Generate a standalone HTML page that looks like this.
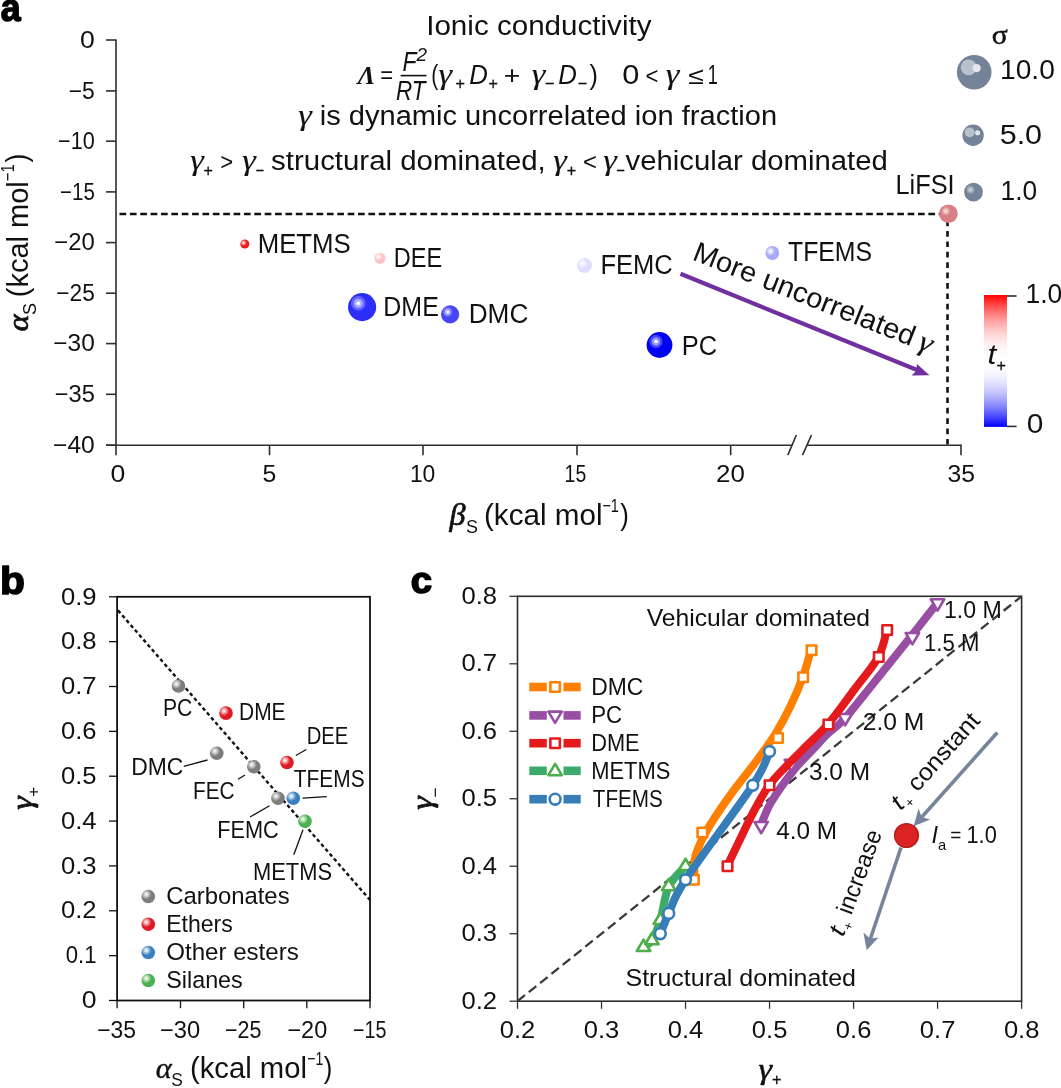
<!DOCTYPE html>
<html><head><meta charset="utf-8"><title>figure</title>
<style>
html,body{margin:0;padding:0;background:#fff;}
body{width:1061px;height:1088px;overflow:hidden;}
svg{display:block;will-change:transform;}
text{font-family:"Liberation Sans",sans-serif;fill:#111;}
text.sf{font-family:"Liberation Serif",serif;}
</style></head><body>
<svg width="1061" height="1088" viewBox="0 0 1061 1088">
<defs>
<radialGradient id="g1" cx="243.59" cy="242.78" r="3.15" gradientUnits="userSpaceOnUse"><stop offset="0" stop-color="#ffffff" stop-opacity="1.00"/><stop offset="0.3" stop-color="#ffffff" stop-opacity="0.75"/><stop offset="1.0" stop-color="#ffffff" stop-opacity="0.00"/></radialGradient>
<radialGradient id="g2" cx="378.49" cy="256.79" r="3.92" gradientUnits="userSpaceOnUse"><stop offset="0" stop-color="#ffffff" stop-opacity="1.00"/><stop offset="0.3" stop-color="#ffffff" stop-opacity="0.75"/><stop offset="1.0" stop-color="#ffffff" stop-opacity="0.00"/></radialGradient>
<radialGradient id="g3" cx="358.29" cy="303.29" r="7.61" gradientUnits="userSpaceOnUse"><stop offset="0" stop-color="#ffffff" stop-opacity="1.00"/><stop offset="0.2" stop-color="#ffffff" stop-opacity="0.95"/><stop offset="0.3" stop-color="#ffffff" stop-opacity="0.62"/><stop offset="0.55" stop-color="#ffffff" stop-opacity="0.55"/><stop offset="0.64" stop-color="#ffffff" stop-opacity="0.30"/><stop offset="0.9" stop-color="#ffffff" stop-opacity="0.24"/><stop offset="1.0" stop-color="#ffffff" stop-opacity="0.00"/></radialGradient>
<radialGradient id="g4" cx="447.64" cy="311.94" r="4.91" gradientUnits="userSpaceOnUse"><stop offset="0" stop-color="#ffffff" stop-opacity="1.00"/><stop offset="0.2" stop-color="#ffffff" stop-opacity="0.95"/><stop offset="0.3" stop-color="#ffffff" stop-opacity="0.62"/><stop offset="0.55" stop-color="#ffffff" stop-opacity="0.55"/><stop offset="0.64" stop-color="#ffffff" stop-opacity="0.30"/><stop offset="0.9" stop-color="#ffffff" stop-opacity="0.24"/><stop offset="1.0" stop-color="#ffffff" stop-opacity="0.00"/></radialGradient>
<radialGradient id="g5" cx="582.48" cy="263.48" r="5.25" gradientUnits="userSpaceOnUse"><stop offset="0" stop-color="#ffffff" stop-opacity="1.00"/><stop offset="0.3" stop-color="#ffffff" stop-opacity="0.75"/><stop offset="1.0" stop-color="#ffffff" stop-opacity="0.00"/></radialGradient>
<radialGradient id="g6" cx="770.44" cy="251.14" r="4.83" gradientUnits="userSpaceOnUse"><stop offset="0" stop-color="#ffffff" stop-opacity="1.00"/><stop offset="0.3" stop-color="#ffffff" stop-opacity="0.75"/><stop offset="1.0" stop-color="#ffffff" stop-opacity="0.00"/></radialGradient>
<radialGradient id="g7" cx="656.02" cy="341.52" r="6.97" gradientUnits="userSpaceOnUse"><stop offset="0" stop-color="#ffffff" stop-opacity="1.00"/><stop offset="0.2" stop-color="#ffffff" stop-opacity="0.95"/><stop offset="0.3" stop-color="#ffffff" stop-opacity="0.62"/><stop offset="0.55" stop-color="#ffffff" stop-opacity="0.55"/><stop offset="0.64" stop-color="#ffffff" stop-opacity="0.30"/><stop offset="0.9" stop-color="#ffffff" stop-opacity="0.24"/><stop offset="1.0" stop-color="#ffffff" stop-opacity="0.00"/></radialGradient>
<radialGradient id="g8" cx="945.89" cy="211.19" r="4.65" gradientUnits="userSpaceOnUse"><stop offset="0" stop-color="#ffffff" stop-opacity="0.80"/><stop offset="0.3" stop-color="#ffffff" stop-opacity="0.60"/><stop offset="1.0" stop-color="#ffffff" stop-opacity="0.00"/></radialGradient>
<radialGradient id="g9" cx="970.49" cy="189.75" r="4.70" gradientUnits="userSpaceOnUse"><stop offset="0" stop-color="#e8ebef" stop-opacity="0.85"/><stop offset="0.3" stop-color="#e8ebef" stop-opacity="0.64"/><stop offset="1.0" stop-color="#e8ebef" stop-opacity="0.00"/></radialGradient>
<linearGradient id="cb" x1="0" y1="0" x2="0" y2="1"><stop offset="0.00" stop-color="#ff0000"/><stop offset="0.05" stop-color="#ff3030"/><stop offset="0.10" stop-color="#ff5c5c"/><stop offset="0.15" stop-color="#ff8282"/><stop offset="0.20" stop-color="#ffa3a3"/><stop offset="0.25" stop-color="#ffbfbf"/><stop offset="0.30" stop-color="#ffd6d6"/><stop offset="0.35" stop-color="#ffe8e8"/><stop offset="0.40" stop-color="#fff5f5"/><stop offset="0.45" stop-color="#fffcfc"/><stop offset="0.50" stop-color="#ffffff"/><stop offset="0.55" stop-color="#fcfcff"/><stop offset="0.60" stop-color="#f5f5ff"/><stop offset="0.65" stop-color="#e8e8ff"/><stop offset="0.70" stop-color="#d6d6ff"/><stop offset="0.75" stop-color="#bfbfff"/><stop offset="0.80" stop-color="#a3a3ff"/><stop offset="0.85" stop-color="#8282ff"/><stop offset="0.90" stop-color="#5c5cff"/><stop offset="0.95" stop-color="#3030ff"/><stop offset="1.00" stop-color="#0000ff"/></linearGradient>
<radialGradient id="g10" cx="176.46" cy="683.82" r="5.10" gradientUnits="userSpaceOnUse"><stop offset="0" stop-color="#ffffff" stop-opacity="1.00"/><stop offset="0.3" stop-color="#ffffff" stop-opacity="0.75"/><stop offset="1.0" stop-color="#ffffff" stop-opacity="0.00"/></radialGradient>
<radialGradient id="g11" cx="223.96" cy="710.92" r="5.10" gradientUnits="userSpaceOnUse"><stop offset="0" stop-color="#ffffff" stop-opacity="1.00"/><stop offset="0.3" stop-color="#ffffff" stop-opacity="0.75"/><stop offset="1.0" stop-color="#ffffff" stop-opacity="0.00"/></radialGradient>
<radialGradient id="g12" cx="214.76" cy="751.12" r="5.10" gradientUnits="userSpaceOnUse"><stop offset="0" stop-color="#ffffff" stop-opacity="1.00"/><stop offset="0.3" stop-color="#ffffff" stop-opacity="0.75"/><stop offset="1.0" stop-color="#ffffff" stop-opacity="0.00"/></radialGradient>
<radialGradient id="g13" cx="251.76" cy="764.62" r="5.10" gradientUnits="userSpaceOnUse"><stop offset="0" stop-color="#ffffff" stop-opacity="1.00"/><stop offset="0.3" stop-color="#ffffff" stop-opacity="0.75"/><stop offset="1.0" stop-color="#ffffff" stop-opacity="0.00"/></radialGradient>
<radialGradient id="g14" cx="284.96" cy="760.32" r="5.10" gradientUnits="userSpaceOnUse"><stop offset="0" stop-color="#ffffff" stop-opacity="1.00"/><stop offset="0.3" stop-color="#ffffff" stop-opacity="0.75"/><stop offset="1.0" stop-color="#ffffff" stop-opacity="0.00"/></radialGradient>
<radialGradient id="g15" cx="275.96" cy="796.12" r="5.10" gradientUnits="userSpaceOnUse"><stop offset="0" stop-color="#ffffff" stop-opacity="1.00"/><stop offset="0.3" stop-color="#ffffff" stop-opacity="0.75"/><stop offset="1.0" stop-color="#ffffff" stop-opacity="0.00"/></radialGradient>
<radialGradient id="g16" cx="291.26" cy="796.12" r="5.10" gradientUnits="userSpaceOnUse"><stop offset="0" stop-color="#ffffff" stop-opacity="1.00"/><stop offset="0.3" stop-color="#ffffff" stop-opacity="0.75"/><stop offset="1.0" stop-color="#ffffff" stop-opacity="0.00"/></radialGradient>
<radialGradient id="g17" cx="302.96" cy="819.02" r="5.10" gradientUnits="userSpaceOnUse"><stop offset="0" stop-color="#ffffff" stop-opacity="1.00"/><stop offset="0.3" stop-color="#ffffff" stop-opacity="0.75"/><stop offset="1.0" stop-color="#ffffff" stop-opacity="0.00"/></radialGradient>
<radialGradient id="g18" cx="146.26" cy="894.32" r="5.10" gradientUnits="userSpaceOnUse"><stop offset="0" stop-color="#ffffff" stop-opacity="1.00"/><stop offset="0.3" stop-color="#ffffff" stop-opacity="0.75"/><stop offset="1.0" stop-color="#ffffff" stop-opacity="0.00"/></radialGradient>
<radialGradient id="g19" cx="146.26" cy="922.12" r="5.10" gradientUnits="userSpaceOnUse"><stop offset="0" stop-color="#ffffff" stop-opacity="1.00"/><stop offset="0.3" stop-color="#ffffff" stop-opacity="0.75"/><stop offset="1.0" stop-color="#ffffff" stop-opacity="0.00"/></radialGradient>
<radialGradient id="g20" cx="146.26" cy="950.32" r="5.10" gradientUnits="userSpaceOnUse"><stop offset="0" stop-color="#ffffff" stop-opacity="1.00"/><stop offset="0.3" stop-color="#ffffff" stop-opacity="0.75"/><stop offset="1.0" stop-color="#ffffff" stop-opacity="0.00"/></radialGradient>
<radialGradient id="g21" cx="146.26" cy="978.32" r="5.10" gradientUnits="userSpaceOnUse"><stop offset="0" stop-color="#ffffff" stop-opacity="1.00"/><stop offset="0.3" stop-color="#ffffff" stop-opacity="0.75"/><stop offset="1.0" stop-color="#ffffff" stop-opacity="0.00"/></radialGradient>
</defs>
<rect x="0" y="0" width="1061" height="1088" fill="#ffffff"/>
<line x1="116.00" y1="39.40" x2="116.00" y2="455.20" stroke="#2e2e2e" stroke-width="1.6" />
<line x1="106.00" y1="445.20" x2="792.20" y2="445.20" stroke="#2e2e2e" stroke-width="1.6" />
<line x1="806.70" y1="445.20" x2="961.00" y2="445.20" stroke="#2e2e2e" stroke-width="1.6" />
<line x1="961.00" y1="444.60" x2="961.00" y2="455.20" stroke="#2e2e2e" stroke-width="1.6" />
<line x1="787.80" y1="455.10" x2="796.40" y2="435.00" stroke="#2e2e2e" stroke-width="1.6" />
<line x1="802.50" y1="455.10" x2="811.50" y2="435.00" stroke="#2e2e2e" stroke-width="1.6" />
<line x1="106.00" y1="40.00" x2="116.00" y2="40.00" stroke="#2e2e2e" stroke-width="1.6" />
<text x="80.00" y="47.60" font-size="23.5" textLength="14.80" lengthAdjust="spacingAndGlyphs">0</text>
<line x1="106.00" y1="90.90" x2="116.00" y2="90.90" stroke="#2e2e2e" stroke-width="1.6" />
<text x="68.70" y="98.50" font-size="23.5" textLength="26.10" lengthAdjust="spacingAndGlyphs">−5</text>
<line x1="106.00" y1="141.20" x2="116.00" y2="141.20" stroke="#2e2e2e" stroke-width="1.6" />
<text x="58.10" y="148.80" font-size="23.5" textLength="36.70" lengthAdjust="spacingAndGlyphs">−10</text>
<line x1="106.00" y1="191.90" x2="116.00" y2="191.90" stroke="#2e2e2e" stroke-width="1.6" />
<text x="60.00" y="199.50" font-size="23.5" textLength="34.80" lengthAdjust="spacingAndGlyphs">−15</text>
<line x1="106.00" y1="242.60" x2="116.00" y2="242.60" stroke="#2e2e2e" stroke-width="1.6" />
<text x="54.30" y="250.20" font-size="23.5" textLength="40.50" lengthAdjust="spacingAndGlyphs">−20</text>
<line x1="106.00" y1="293.20" x2="116.00" y2="293.20" stroke="#2e2e2e" stroke-width="1.6" />
<text x="56.30" y="300.80" font-size="23.5" textLength="38.50" lengthAdjust="spacingAndGlyphs">−25</text>
<line x1="106.00" y1="343.60" x2="116.00" y2="343.60" stroke="#2e2e2e" stroke-width="1.6" />
<text x="53.30" y="351.20" font-size="23.5" textLength="41.50" lengthAdjust="spacingAndGlyphs">−30</text>
<line x1="106.00" y1="394.30" x2="116.00" y2="394.30" stroke="#2e2e2e" stroke-width="1.6" />
<text x="54.70" y="401.90" font-size="23.5" textLength="40.10" lengthAdjust="spacingAndGlyphs">−35</text>
<line x1="106.00" y1="445.20" x2="116.00" y2="445.20" stroke="#2e2e2e" stroke-width="1.6" />
<text x="53.00" y="452.80" font-size="23.5" textLength="41.80" lengthAdjust="spacingAndGlyphs">−40</text>
<line x1="269.50" y1="445.20" x2="269.50" y2="455.20" stroke="#2e2e2e" stroke-width="1.6" />
<line x1="423.00" y1="445.20" x2="423.00" y2="455.20" stroke="#2e2e2e" stroke-width="1.6" />
<line x1="577.00" y1="445.20" x2="577.00" y2="455.20" stroke="#2e2e2e" stroke-width="1.6" />
<line x1="730.70" y1="445.20" x2="730.70" y2="455.20" stroke="#2e2e2e" stroke-width="1.6" />
<text x="110.40" y="482.20" font-size="23.5" textLength="14.80" lengthAdjust="spacingAndGlyphs">0</text>
<text x="262.60" y="482.20" font-size="23.5" textLength="13.80" lengthAdjust="spacingAndGlyphs">5</text>
<text x="409.90" y="482.20" font-size="23.5" textLength="25.40" lengthAdjust="spacingAndGlyphs">10</text>
<text x="564.60" y="482.20" font-size="23.5" textLength="21.60" lengthAdjust="spacingAndGlyphs">15</text>
<text x="716.00" y="482.20" font-size="23.5" textLength="28.80" lengthAdjust="spacingAndGlyphs">20</text>
<text x="947.50" y="482.20" font-size="23.5" textLength="27.50" lengthAdjust="spacingAndGlyphs">35</text>
<text x="0.70" y="20.70" font-size="38.5" font-weight="bold" textLength="19.90" lengthAdjust="spacingAndGlyphs" style="fill:#000" stroke="#000" stroke-width="1.5" stroke-linejoin="round">a</text>
<line x1="119.50" y1="214.00" x2="943.00" y2="214.00" stroke="#111" stroke-width="2.4" stroke-dasharray="6.7 3.67"/>
<line x1="947.50" y1="220.60" x2="947.50" y2="444.40" stroke="#111" stroke-width="2.6" stroke-dasharray="5.7 4.7"/>
<g transform="translate(27.8 331.2) rotate(-90)">
<text x="0.00" y="0.00" font-size="29" class="sf" font-style="italic" textLength="16.80" lengthAdjust="spacingAndGlyphs" stroke="#111" stroke-width="0.7">α</text>
<text x="16.20" y="8.00" font-size="18.5" textLength="12.00" lengthAdjust="spacingAndGlyphs">S</text>
<text x="34.00" y="0.00" font-size="29" textLength="116.00" lengthAdjust="spacingAndGlyphs">(kcal mol</text>
<text x="150.00" y="-13.40" font-size="18.5" textLength="17.00" lengthAdjust="spacingAndGlyphs">−1</text>
<text x="168.60" y="-0.60" font-size="29" textLength="8.80" lengthAdjust="spacingAndGlyphs">)</text>
</g>
<text x="449.40" y="525.20" font-size="31" class="sf" font-style="italic" textLength="16.00" lengthAdjust="spacingAndGlyphs" stroke="#111" stroke-width="0.7">β</text>
<text x="466.00" y="532.60" font-size="18.5" textLength="12.00" lengthAdjust="spacingAndGlyphs">S</text>
<text x="484.00" y="525.00" font-size="29" textLength="118.50" lengthAdjust="spacingAndGlyphs">(kcal mol</text>
<text x="602.40" y="512.20" font-size="18.5" textLength="16.50" lengthAdjust="spacingAndGlyphs">−1</text>
<text x="620.20" y="525.00" font-size="29" textLength="8.60" lengthAdjust="spacingAndGlyphs">)</text>
<text x="426.20" y="34.50" font-size="28.2" textLength="225.30" lengthAdjust="spacingAndGlyphs">Ionic conductivity</text>
<text x="357.80" y="83.60" font-size="25" class="sf" font-style="italic" font-weight="bold" textLength="17.60" lengthAdjust="spacingAndGlyphs">Λ</text>
<text x="380.20" y="82.60" font-size="24" textLength="12.90" lengthAdjust="spacingAndGlyphs">=</text>
<text x="402.60" y="70.80" font-size="28.2" font-style="italic" textLength="14.00" lengthAdjust="spacingAndGlyphs">F</text>
<text x="416.60" y="60.80" font-size="18" font-style="italic" textLength="10.50" lengthAdjust="spacingAndGlyphs">2</text>
<line x1="400.60" y1="75.60" x2="426.40" y2="75.60" stroke="#111" stroke-width="1.6" />
<text x="396.00" y="99.60" font-size="28.2" font-style="italic" textLength="29.50" lengthAdjust="spacingAndGlyphs">RT</text>
<text x="431.20" y="84.10" font-size="28.2" textLength="7.00" lengthAdjust="spacingAndGlyphs">(</text>
<text x="438.60" y="83.60" font-size="29" class="sf" font-style="italic" textLength="13.60" lengthAdjust="spacingAndGlyphs" stroke="#111" stroke-width="0.12">γ</text>
<text x="455.40" y="89.40" font-size="16.5" textLength="9.40" lengthAdjust="spacingAndGlyphs" stroke="#111" stroke-width="0.3">+</text>
<text x="469.20" y="83.60" font-size="28.2" font-style="italic" textLength="18.60" lengthAdjust="spacingAndGlyphs">D</text>
<text x="488.40" y="89.40" font-size="16.5" textLength="9.40" lengthAdjust="spacingAndGlyphs" stroke="#111" stroke-width="0.3">+</text>
<text x="503.70" y="83.60" font-size="25" textLength="16.60" lengthAdjust="spacingAndGlyphs">+</text>
<text x="531.80" y="83.60" font-size="29" class="sf" font-style="italic" textLength="13.60" lengthAdjust="spacingAndGlyphs" stroke="#111" stroke-width="0.12">γ</text>
<text x="545.00" y="89.40" font-size="16.5" textLength="9.40" lengthAdjust="spacingAndGlyphs" stroke="#111" stroke-width="0.3">−</text>
<text x="558.20" y="83.60" font-size="28.2" font-style="italic" textLength="18.60" lengthAdjust="spacingAndGlyphs">D</text>
<text x="577.80" y="89.40" font-size="16.5" textLength="9.40" lengthAdjust="spacingAndGlyphs" stroke="#111" stroke-width="0.3">−</text>
<text x="589.60" y="84.10" font-size="28.2" textLength="8.40" lengthAdjust="spacingAndGlyphs">)</text>
<text x="622.20" y="83.60" font-size="27.4" textLength="17.10" lengthAdjust="spacingAndGlyphs">0</text>
<text x="645.60" y="83.60" font-size="24" textLength="12.90" lengthAdjust="spacingAndGlyphs">&lt;</text>
<text x="665.80" y="83.60" font-size="29" class="sf" font-style="italic" textLength="13.60" lengthAdjust="spacingAndGlyphs" stroke="#111" stroke-width="0.12">γ</text>
<text x="688.10" y="83.60" font-size="24" textLength="15.70" lengthAdjust="spacingAndGlyphs">≤</text>
<text x="707.80" y="83.60" font-size="27.4" textLength="10.10" lengthAdjust="spacingAndGlyphs">1</text>
<text x="298.20" y="124.80" font-size="29" class="sf" font-style="italic" textLength="13.60" lengthAdjust="spacingAndGlyphs" stroke="#111" stroke-width="0.12">γ</text>
<text x="319.70" y="124.80" font-size="28.2" textLength="457.40" lengthAdjust="spacingAndGlyphs">is dynamic uncorrelated ion fraction</text>
<text x="190.20" y="170.00" font-size="29" class="sf" font-style="italic" textLength="13.60" lengthAdjust="spacingAndGlyphs" stroke="#111" stroke-width="0.12">γ</text>
<text x="203.60" y="176.20" font-size="16.5" textLength="9.40" lengthAdjust="spacingAndGlyphs" stroke="#111" stroke-width="0.3">+</text>
<text x="220.20" y="170.00" font-size="24" textLength="12.90" lengthAdjust="spacingAndGlyphs">&gt;</text>
<text x="242.30" y="170.00" font-size="29" class="sf" font-style="italic" textLength="13.60" lengthAdjust="spacingAndGlyphs" stroke="#111" stroke-width="0.12">γ</text>
<text x="255.40" y="176.20" font-size="16.5" textLength="8.60" lengthAdjust="spacingAndGlyphs" stroke="#111" stroke-width="0.3">−</text>
<text x="271.10" y="170.00" font-size="28.2" textLength="274.70" lengthAdjust="spacingAndGlyphs">structural dominated,</text>
<text x="553.20" y="170.00" font-size="29" class="sf" font-style="italic" textLength="13.60" lengthAdjust="spacingAndGlyphs" stroke="#111" stroke-width="0.12">γ</text>
<text x="566.80" y="176.20" font-size="16.5" textLength="9.40" lengthAdjust="spacingAndGlyphs" stroke="#111" stroke-width="0.3">+</text>
<text x="583.00" y="170.00" font-size="24" textLength="14.00" lengthAdjust="spacingAndGlyphs">&lt;</text>
<text x="603.20" y="170.00" font-size="29" class="sf" font-style="italic" textLength="13.60" lengthAdjust="spacingAndGlyphs" stroke="#111" stroke-width="0.12">γ</text>
<text x="616.20" y="176.20" font-size="16.5" textLength="8.60" lengthAdjust="spacingAndGlyphs" stroke="#111" stroke-width="0.3">−</text>
<text x="625.50" y="170.00" font-size="28.2" textLength="262.30" lengthAdjust="spacingAndGlyphs">vehicular dominated</text>
<circle cx="244.80" cy="244.00" r="4.50" fill="#f01818"/>
<circle cx="244.80" cy="244.00" r="4.50" fill="url(#g1)"/>
<text x="257.70" y="252.50" font-size="28.2" textLength="93.10" lengthAdjust="spacingAndGlyphs">METMS</text>
<circle cx="380.00" cy="258.30" r="5.60" fill="#ffc4c8"/>
<circle cx="380.00" cy="258.30" r="5.60" fill="url(#g2)"/>
<text x="393.70" y="266.80" font-size="28.2" textLength="48.40" lengthAdjust="spacingAndGlyphs">DEE</text>
<circle cx="362.10" cy="307.10" r="14.10" fill="#2d2dfa"/>
<circle cx="362.10" cy="307.10" r="14.10" fill="url(#g3)"/>
<text x="383.30" y="315.60" font-size="28.2" textLength="55.50" lengthAdjust="spacingAndGlyphs">DME</text>
<circle cx="450.10" cy="314.40" r="9.10" fill="#4646f5"/>
<circle cx="450.10" cy="314.40" r="9.10" fill="url(#g4)"/>
<text x="468.70" y="323.00" font-size="28.2" textLength="59.60" lengthAdjust="spacingAndGlyphs">DMC</text>
<circle cx="584.50" cy="265.50" r="7.50" fill="#dedeff"/>
<circle cx="584.50" cy="265.50" r="7.50" fill="url(#g5)"/>
<text x="600.50" y="274.30" font-size="28.2" textLength="72.30" lengthAdjust="spacingAndGlyphs">FEMC</text>
<circle cx="772.30" cy="253.00" r="6.90" fill="#a9a9fb"/>
<circle cx="772.30" cy="253.00" r="6.90" fill="url(#g6)"/>
<text x="788.00" y="261.30" font-size="28.2" textLength="84.10" lengthAdjust="spacingAndGlyphs">TFEMS</text>
<circle cx="659.50" cy="345.00" r="12.90" fill="#0000f2"/>
<circle cx="659.50" cy="345.00" r="12.90" fill="url(#g7)"/>
<text x="681.70" y="355.00" font-size="28.2" textLength="35.40" lengthAdjust="spacingAndGlyphs">PC</text>
<text x="895.50" y="193.80" font-size="28.2" textLength="59.10" lengthAdjust="spacingAndGlyphs">LiFSI</text>
<circle cx="948.40" cy="213.70" r="9.30" fill="#d97f83"/>
<circle cx="948.40" cy="213.70" r="9.30" fill="url(#g8)"/>
<line x1="680.5" y1="273.8" x2="922" y2="372" stroke="#7030a0" stroke-width="4.2"/>
<polygon points="929.5,375.2 911.5,375.4 916.2,371.0 917.0,364.0" fill="#7030a0"/>
<g transform="translate(691.3 259.3) rotate(21.6)">
<text x="0.00" y="0.00" font-size="28.2" textLength="236.00" lengthAdjust="spacingAndGlyphs">More uncorrelated</text>
<text x="242.50" y="0.00" font-size="29" class="sf" font-style="italic" textLength="13.20" lengthAdjust="spacingAndGlyphs" stroke="#111" stroke-width="0.12">γ</text>
</g>
<text x="991.80" y="43.60" font-size="28" class="sf" textLength="16.00" lengthAdjust="spacingAndGlyphs" stroke="#111" stroke-width="0.5">σ</text>
<circle cx="974.2" cy="72.2" r="17.3" fill="#748398"/>
<circle cx="968.66" cy="67.36" r="7.96" fill="#c6cdd7" fill-opacity="0.85"/>
<circle cx="976.62" cy="68.05" r="4.15" fill="#e3e6eb"/>
<text x="1000.00" y="79.00" font-size="27.4" textLength="54.80" lengthAdjust="spacingAndGlyphs">10.0</text>
<circle cx="973.1" cy="135.3" r="10.7" fill="#748398"/>
<circle cx="969.68" cy="132.30" r="4.92" fill="#c6cdd7" fill-opacity="0.85"/>
<circle cx="977.59" cy="132.73" r="2.57" fill="#e3e6eb"/>
<text x="999.70" y="143.80" font-size="27.4" textLength="42.40" lengthAdjust="spacingAndGlyphs">5.0</text>
<circle cx="973.50" cy="192.10" r="9.40" fill="#748398"/>
<circle cx="973.50" cy="192.10" r="9.40" fill="url(#g9)"/>
<text x="1000.50" y="200.00" font-size="27.4" textLength="36.60" lengthAdjust="spacingAndGlyphs">1.0</text>
<rect x="984.0" y="295.0" width="23.0" height="131.9" fill="url(#cb)"/>
<line x1="1007.00" y1="296.00" x2="1016.60" y2="296.00" stroke="#2e2e2e" stroke-width="1.6" />
<line x1="1007.00" y1="426.40" x2="1016.60" y2="426.40" stroke="#2e2e2e" stroke-width="1.6" />
<text x="1025.50" y="303.00" font-size="27.4" textLength="36.80" lengthAdjust="spacingAndGlyphs">1.0</text>
<text x="1026.70" y="433.00" font-size="27.4" textLength="16.60" lengthAdjust="spacingAndGlyphs">0</text>
<text x="987.40" y="364.00" font-size="27" font-style="italic" textLength="8.80" lengthAdjust="spacingAndGlyphs">t</text>
<text x="996.60" y="370.80" font-size="16.5" textLength="9.40" lengthAdjust="spacingAndGlyphs" stroke="#111" stroke-width="0.3">+</text>
<text x="0.10" y="593.60" font-size="38.5" font-weight="bold" textLength="24.90" lengthAdjust="spacingAndGlyphs" style="fill:#000" stroke="#000" stroke-width="1.5" stroke-linejoin="round">b</text>
<rect x="117.1" y="596.8" width="252.9" height="403.70000000000005" fill="none" stroke="#111" stroke-width="1.8"/>
<line x1="109.00" y1="1000.50" x2="117.10" y2="1000.50" stroke="#111" stroke-width="1.3" />
<text x="81.80" y="1008.20" font-size="23.5" textLength="14.80" lengthAdjust="spacingAndGlyphs">0</text>
<line x1="109.00" y1="955.64" x2="117.10" y2="955.64" stroke="#111" stroke-width="1.3" />
<text x="65.80" y="963.34" font-size="23.5" textLength="30.80" lengthAdjust="spacingAndGlyphs">0.1</text>
<line x1="109.00" y1="910.79" x2="117.10" y2="910.79" stroke="#111" stroke-width="1.3" />
<text x="61.00" y="918.49" font-size="23.5" textLength="35.60" lengthAdjust="spacingAndGlyphs">0.2</text>
<line x1="109.00" y1="865.93" x2="117.10" y2="865.93" stroke="#111" stroke-width="1.3" />
<text x="61.00" y="873.63" font-size="23.5" textLength="35.60" lengthAdjust="spacingAndGlyphs">0.3</text>
<line x1="109.00" y1="821.08" x2="117.10" y2="821.08" stroke="#111" stroke-width="1.3" />
<text x="61.00" y="828.78" font-size="23.5" textLength="35.60" lengthAdjust="spacingAndGlyphs">0.4</text>
<line x1="109.00" y1="776.22" x2="117.10" y2="776.22" stroke="#111" stroke-width="1.3" />
<text x="61.00" y="783.92" font-size="23.5" textLength="35.60" lengthAdjust="spacingAndGlyphs">0.5</text>
<line x1="109.00" y1="731.37" x2="117.10" y2="731.37" stroke="#111" stroke-width="1.3" />
<text x="61.00" y="739.07" font-size="23.5" textLength="35.60" lengthAdjust="spacingAndGlyphs">0.6</text>
<line x1="109.00" y1="686.51" x2="117.10" y2="686.51" stroke="#111" stroke-width="1.3" />
<text x="61.00" y="694.21" font-size="23.5" textLength="35.60" lengthAdjust="spacingAndGlyphs">0.7</text>
<line x1="109.00" y1="641.66" x2="117.10" y2="641.66" stroke="#111" stroke-width="1.3" />
<text x="61.00" y="649.36" font-size="23.5" textLength="35.60" lengthAdjust="spacingAndGlyphs">0.8</text>
<line x1="109.00" y1="596.80" x2="117.10" y2="596.80" stroke="#111" stroke-width="1.3" />
<text x="61.00" y="604.50" font-size="23.5" textLength="35.60" lengthAdjust="spacingAndGlyphs">0.9</text>
<line x1="117.10" y1="1000.50" x2="117.10" y2="1008.20" stroke="#111" stroke-width="1.3" />
<line x1="180.50" y1="1000.50" x2="180.50" y2="1008.20" stroke="#111" stroke-width="1.3" />
<line x1="243.70" y1="1000.50" x2="243.70" y2="1008.20" stroke="#111" stroke-width="1.3" />
<line x1="306.80" y1="1000.50" x2="306.80" y2="1008.20" stroke="#111" stroke-width="1.3" />
<line x1="370.00" y1="1000.50" x2="370.00" y2="1008.20" stroke="#111" stroke-width="1.3" />
<text x="97.20" y="1038.00" font-size="23.5" textLength="38.80" lengthAdjust="spacingAndGlyphs">−35</text>
<text x="160.00" y="1038.00" font-size="23.5" textLength="40.20" lengthAdjust="spacingAndGlyphs">−30</text>
<text x="225.00" y="1038.00" font-size="23.5" textLength="36.40" lengthAdjust="spacingAndGlyphs">−25</text>
<text x="287.40" y="1038.00" font-size="23.5" textLength="39.80" lengthAdjust="spacingAndGlyphs">−20</text>
<text x="353.00" y="1038.00" font-size="23.5" textLength="33.40" lengthAdjust="spacingAndGlyphs">−15</text>
<line x1="118.00" y1="610.40" x2="370.00" y2="900.00" stroke="#111" stroke-width="2.4" stroke-dasharray="3.6 2.85"/>
<g transform="translate(32.0 809.7) rotate(-90)">
<text x="0.00" y="0.00" font-size="30" class="sf" font-style="italic" textLength="13.40" lengthAdjust="spacingAndGlyphs" stroke="#111" stroke-width="0.7">γ</text>
<text x="13.00" y="6.60" font-size="17" textLength="10.00" lengthAdjust="spacingAndGlyphs">+</text>
</g>
<text x="155.80" y="1078.20" font-size="29" class="sf" font-style="italic" textLength="16.00" lengthAdjust="spacingAndGlyphs" stroke="#111" stroke-width="0.4">α</text>
<text x="171.20" y="1086.00" font-size="18.5" textLength="11.60" lengthAdjust="spacingAndGlyphs">S</text>
<text x="190.00" y="1078.20" font-size="29" textLength="117.00" lengthAdjust="spacingAndGlyphs">(kcal mol</text>
<text x="307.20" y="1065.40" font-size="18.5" textLength="16.00" lengthAdjust="spacingAndGlyphs">−1</text>
<text x="323.80" y="1078.20" font-size="29" textLength="8.60" lengthAdjust="spacingAndGlyphs">)</text>
<line x1="183.80" y1="766.30" x2="207.50" y2="760.00" stroke="#111" stroke-width="1.3" />
<line x1="238.00" y1="779.30" x2="245.00" y2="775.00" stroke="#111" stroke-width="1.3" />
<line x1="295.80" y1="755.50" x2="306.30" y2="749.50" stroke="#111" stroke-width="1.3" />
<line x1="302.50" y1="798.20" x2="326.80" y2="796.70" stroke="#111" stroke-width="1.3" />
<line x1="250.00" y1="817.00" x2="269.50" y2="805.80" stroke="#111" stroke-width="1.3" />
<line x1="303.00" y1="829.80" x2="293.80" y2="854.80" stroke="#111" stroke-width="1.3" />
<circle cx="178.50" cy="686.00" r="6.80" fill="#7d7d7d"/>
<circle cx="178.50" cy="686.00" r="6.80" fill="url(#g10)"/>
<text x="163.00" y="715.80" font-size="23.7" textLength="29.40" lengthAdjust="spacingAndGlyphs">PC</text>
<circle cx="226.00" cy="713.10" r="6.80" fill="#e01b24"/>
<circle cx="226.00" cy="713.10" r="6.80" fill="url(#g11)"/>
<text x="239.00" y="720.00" font-size="23.7" textLength="46.60" lengthAdjust="spacingAndGlyphs">DME</text>
<circle cx="216.80" cy="753.30" r="6.80" fill="#7d7d7d"/>
<circle cx="216.80" cy="753.30" r="6.80" fill="url(#g12)"/>
<text x="131.20" y="774.60" font-size="23.7" textLength="52.10" lengthAdjust="spacingAndGlyphs">DMC</text>
<circle cx="253.80" cy="766.80" r="6.80" fill="#7d7d7d"/>
<circle cx="253.80" cy="766.80" r="6.80" fill="url(#g13)"/>
<text x="193.00" y="799.30" font-size="23.7" textLength="41.60" lengthAdjust="spacingAndGlyphs">FEC</text>
<circle cx="287.00" cy="762.50" r="6.80" fill="#e01b24"/>
<circle cx="287.00" cy="762.50" r="6.80" fill="url(#g14)"/>
<text x="306.70" y="743.80" font-size="23.7" textLength="41.60" lengthAdjust="spacingAndGlyphs">DEE</text>
<circle cx="278.00" cy="798.30" r="6.80" fill="#7d7d7d"/>
<circle cx="278.00" cy="798.30" r="6.80" fill="url(#g15)"/>
<circle cx="293.30" cy="798.30" r="6.80" fill="#3a7fc1"/>
<circle cx="293.30" cy="798.30" r="6.80" fill="url(#g16)"/>
<text x="293.70" y="787.00" font-size="23.7" textLength="70.90" lengthAdjust="spacingAndGlyphs">TFEMS</text>
<text x="217.20" y="837.80" font-size="23.7" textLength="61.60" lengthAdjust="spacingAndGlyphs">FEMC</text>
<circle cx="305.00" cy="821.20" r="6.80" fill="#4bb04f"/>
<circle cx="305.00" cy="821.20" r="6.80" fill="url(#g17)"/>
<text x="253.00" y="879.80" font-size="23.7" textLength="79.10" lengthAdjust="spacingAndGlyphs">METMS</text>
<circle cx="148.30" cy="896.50" r="6.80" fill="#7d7d7d"/>
<circle cx="148.30" cy="896.50" r="6.80" fill="url(#g18)"/>
<text x="166.20" y="904.10" font-size="23.7" textLength="123.40" lengthAdjust="spacingAndGlyphs">Carbonates</text>
<circle cx="148.30" cy="924.30" r="6.80" fill="#e01b24"/>
<circle cx="148.30" cy="924.30" r="6.80" fill="url(#g19)"/>
<text x="166.20" y="931.90" font-size="23.7" textLength="66.60" lengthAdjust="spacingAndGlyphs">Ethers</text>
<circle cx="148.30" cy="952.50" r="6.80" fill="#3a7fc1"/>
<circle cx="148.30" cy="952.50" r="6.80" fill="url(#g20)"/>
<text x="166.20" y="960.10" font-size="23.7" textLength="132.60" lengthAdjust="spacingAndGlyphs">Other esters</text>
<circle cx="148.30" cy="980.50" r="6.80" fill="#4bb04f"/>
<circle cx="148.30" cy="980.50" r="6.80" fill="url(#g21)"/>
<text x="166.20" y="988.10" font-size="23.7" textLength="76.60" lengthAdjust="spacingAndGlyphs">Silanes</text>
<text x="410.80" y="593.40" font-size="36.5" font-weight="bold" textLength="21.30" lengthAdjust="spacingAndGlyphs" style="fill:#000" stroke="#000" stroke-width="1.5" stroke-linejoin="round">c</text>
<rect x="517.5" y="596.3" width="504.1" height="404.9000000000001" fill="none" stroke="#2a2a2a" stroke-width="1.6"/>
<line x1="509.50" y1="1001.20" x2="517.50" y2="1001.20" stroke="#333" stroke-width="1.3" />
<line x1="517.50" y1="1001.20" x2="517.50" y2="1008.80" stroke="#333" stroke-width="1.3" />
<text x="461.40" y="1008.60" font-size="23.5" textLength="35.60" lengthAdjust="spacingAndGlyphs">0.2</text>
<text x="499.80" y="1038.00" font-size="23.5" textLength="35.50" lengthAdjust="spacingAndGlyphs">0.2</text>
<line x1="509.50" y1="933.72" x2="517.50" y2="933.72" stroke="#333" stroke-width="1.3" />
<line x1="601.52" y1="1001.20" x2="601.52" y2="1008.80" stroke="#333" stroke-width="1.3" />
<text x="461.40" y="941.12" font-size="23.5" textLength="35.60" lengthAdjust="spacingAndGlyphs">0.3</text>
<text x="583.82" y="1038.00" font-size="23.5" textLength="35.50" lengthAdjust="spacingAndGlyphs">0.3</text>
<line x1="509.50" y1="866.23" x2="517.50" y2="866.23" stroke="#333" stroke-width="1.3" />
<line x1="685.53" y1="1001.20" x2="685.53" y2="1008.80" stroke="#333" stroke-width="1.3" />
<text x="461.40" y="873.63" font-size="23.5" textLength="35.60" lengthAdjust="spacingAndGlyphs">0.4</text>
<text x="667.83" y="1038.00" font-size="23.5" textLength="35.50" lengthAdjust="spacingAndGlyphs">0.4</text>
<line x1="509.50" y1="798.75" x2="517.50" y2="798.75" stroke="#333" stroke-width="1.3" />
<line x1="769.55" y1="1001.20" x2="769.55" y2="1008.80" stroke="#333" stroke-width="1.3" />
<text x="461.40" y="806.15" font-size="23.5" textLength="35.60" lengthAdjust="spacingAndGlyphs">0.5</text>
<text x="751.85" y="1038.00" font-size="23.5" textLength="35.50" lengthAdjust="spacingAndGlyphs">0.5</text>
<line x1="509.50" y1="731.27" x2="517.50" y2="731.27" stroke="#333" stroke-width="1.3" />
<line x1="853.57" y1="1001.20" x2="853.57" y2="1008.80" stroke="#333" stroke-width="1.3" />
<text x="461.40" y="738.67" font-size="23.5" textLength="35.60" lengthAdjust="spacingAndGlyphs">0.6</text>
<text x="835.87" y="1038.00" font-size="23.5" textLength="35.50" lengthAdjust="spacingAndGlyphs">0.6</text>
<line x1="509.50" y1="663.78" x2="517.50" y2="663.78" stroke="#333" stroke-width="1.3" />
<line x1="937.58" y1="1001.20" x2="937.58" y2="1008.80" stroke="#333" stroke-width="1.3" />
<text x="461.40" y="671.18" font-size="23.5" textLength="35.60" lengthAdjust="spacingAndGlyphs">0.7</text>
<text x="919.88" y="1038.00" font-size="23.5" textLength="35.50" lengthAdjust="spacingAndGlyphs">0.7</text>
<line x1="509.50" y1="596.30" x2="517.50" y2="596.30" stroke="#333" stroke-width="1.3" />
<line x1="1021.60" y1="1001.20" x2="1021.60" y2="1008.80" stroke="#333" stroke-width="1.3" />
<text x="461.40" y="603.70" font-size="23.5" textLength="35.60" lengthAdjust="spacingAndGlyphs">0.8</text>
<text x="1003.90" y="1038.00" font-size="23.5" textLength="35.50" lengthAdjust="spacingAndGlyphs">0.8</text>
<line x1="517.50" y1="1001.20" x2="1021.60" y2="596.30" stroke="#3a3a3a" stroke-width="2.3" stroke-dasharray="9.6 4.9"/>
<path d="M694.50,879.30 C694.57,875.78 693.48,865.15 694.90,858.20 C696.32,851.25 699.73,844.30 703.00,837.60 C706.27,830.90 709.53,825.67 714.50,818.00 C719.47,810.33 725.92,800.97 732.80,791.60 C739.68,782.23 748.72,771.37 755.80,761.80 C762.88,752.23 769.55,743.40 775.30,734.20 C781.05,725.00 785.70,716.17 790.30,706.60 C794.90,697.03 799.47,686.18 802.90,676.80 C806.33,667.42 809.57,654.72 810.90,650.30" fill="none" stroke="#ff7f00" stroke-width="8" stroke-linejoin="round"/>
<rect x="689.18" y="874.98" width="9.5" height="9.5" fill="#fff" stroke="#ff7f00" stroke-width="2.6" stroke-linejoin="round"/>
<rect x="697.59" y="827.74" width="9.5" height="9.5" fill="#fff" stroke="#ff7f00" stroke-width="2.6" stroke-linejoin="round"/>
<rect x="773.20" y="733.27" width="9.5" height="9.5" fill="#fff" stroke="#ff7f00" stroke-width="2.6" stroke-linejoin="round"/>
<rect x="798.41" y="672.53" width="9.5" height="9.5" fill="#fff" stroke="#ff7f00" stroke-width="2.6" stroke-linejoin="round"/>
<rect x="806.81" y="645.54" width="9.5" height="9.5" fill="#fff" stroke="#ff7f00" stroke-width="2.6" stroke-linejoin="round"/>
<path d="M643.52,947.21 C644.93,946.09 649.13,944.96 651.93,940.47 C654.73,935.97 657.53,929.22 660.33,920.22 C663.13,911.22 664.53,895.48 668.73,886.48 C672.93,877.48 682.73,869.61 685.53,866.23" fill="none" stroke="#3cab6b" stroke-width="8" stroke-linejoin="round"/>
<polygon points="643.52,939.71 650.23,951.01 636.82,951.01" fill="#fff" stroke="#4daf4a" stroke-width="2.6" stroke-linejoin="round"/>
<polygon points="651.93,932.97 658.63,944.26 645.23,944.26" fill="#fff" stroke="#4daf4a" stroke-width="2.6" stroke-linejoin="round"/>
<polygon points="660.33,912.72 667.03,924.02 653.63,924.02" fill="#fff" stroke="#4daf4a" stroke-width="2.6" stroke-linejoin="round"/>
<polygon points="668.73,878.98 675.43,890.28 662.03,890.28" fill="#fff" stroke="#4daf4a" stroke-width="2.6" stroke-linejoin="round"/>
<polygon points="685.53,858.73 692.23,870.03 678.83,870.03" fill="#fff" stroke="#4daf4a" stroke-width="2.6" stroke-linejoin="round"/>
<path d="M760.60,826.00 C762.33,822.08 765.52,811.75 771.00,802.50 C776.48,793.25 786.52,779.32 793.50,770.50 C800.48,761.68 807.32,755.62 812.90,749.60 C818.48,743.58 821.73,739.52 827.00,734.40 C832.27,729.28 836.48,727.77 844.50,718.90 C852.52,710.03 864.02,694.93 875.10,681.20 C886.18,667.47 900.60,649.57 911.00,636.50 C921.40,623.43 933.08,608.42 937.50,602.80" fill="none" stroke="#984ea3" stroke-width="8" stroke-linejoin="round"/>
<polygon points="761.15,833.24 767.85,821.94 754.45,821.94" fill="#fff" stroke="#984ea3" stroke-width="2.6" stroke-linejoin="round"/>
<polygon points="791.39,771.16 798.09,759.86 784.69,759.86" fill="#fff" stroke="#984ea3" stroke-width="2.6" stroke-linejoin="round"/>
<polygon points="845.16,725.27 851.87,713.97 838.46,713.97" fill="#fff" stroke="#984ea3" stroke-width="2.6" stroke-linejoin="round"/>
<polygon points="912.38,644.29 919.08,632.99 905.68,632.99" fill="#fff" stroke="#984ea3" stroke-width="2.6" stroke-linejoin="round"/>
<polygon points="937.58,610.55 944.28,599.25 930.88,599.25" fill="#fff" stroke="#984ea3" stroke-width="2.6" stroke-linejoin="round"/>
<path d="M727.10,866.30 C729.58,861.13 737.35,844.85 742.00,835.30 C746.65,825.75 750.45,817.35 755.00,809.00 C759.55,800.65 764.13,792.28 769.30,785.20 C774.47,778.12 780.45,772.42 786.00,766.50 C791.55,760.58 795.55,756.80 802.60,749.70 C809.65,742.60 819.67,733.93 828.30,723.90 C836.93,713.87 846.07,700.65 854.40,689.50 C862.73,678.35 872.87,667.02 878.30,657.00 C883.73,646.98 885.55,634.00 887.00,629.40" fill="none" stroke="#e41a1c" stroke-width="8" stroke-linejoin="round"/>
<rect x="722.79" y="861.48" width="9.5" height="9.5" fill="#fff" stroke="#e41a1c" stroke-width="2.6" stroke-linejoin="round"/>
<rect x="764.80" y="780.50" width="9.5" height="9.5" fill="#fff" stroke="#e41a1c" stroke-width="2.6" stroke-linejoin="round"/>
<rect x="823.61" y="719.77" width="9.5" height="9.5" fill="#fff" stroke="#e41a1c" stroke-width="2.6" stroke-linejoin="round"/>
<rect x="874.02" y="652.28" width="9.5" height="9.5" fill="#fff" stroke="#e41a1c" stroke-width="2.6" stroke-linejoin="round"/>
<rect x="882.42" y="625.29" width="9.5" height="9.5" fill="#fff" stroke="#e41a1c" stroke-width="2.6" stroke-linejoin="round"/>
<path d="M660.33,933.72 C661.73,930.34 664.53,922.47 668.73,913.47 C672.93,904.47 671.53,901.10 685.53,879.73 C699.54,858.36 738.74,806.62 752.75,785.25 C766.75,763.88 766.75,757.14 769.55,751.51" fill="none" stroke="#377eb8" stroke-width="8" stroke-linejoin="round"/>
<circle cx="660.33" cy="933.72" r="5.4" fill="#fff" stroke="#377eb8" stroke-width="2.6"/>
<circle cx="668.73" cy="913.47" r="5.4" fill="#fff" stroke="#377eb8" stroke-width="2.6"/>
<circle cx="685.53" cy="879.73" r="5.4" fill="#fff" stroke="#377eb8" stroke-width="2.6"/>
<circle cx="752.75" cy="785.25" r="5.4" fill="#fff" stroke="#377eb8" stroke-width="2.6"/>
<circle cx="769.55" cy="751.51" r="5.4" fill="#fff" stroke="#377eb8" stroke-width="2.6"/>
<rect x="529.3" y="682.70" width="17.5" height="8.6" fill="#ff7f00"/>
<rect x="563.5" y="682.70" width="17.2" height="8.6" fill="#ff7f00"/>
<rect x="550.35" y="682.25" width="9.5" height="9.5" fill="#fff" stroke="#ff7f00" stroke-width="2.6" stroke-linejoin="round"/>
<text x="591.20" y="694.90" font-size="24.0" textLength="52.10" lengthAdjust="spacingAndGlyphs">DMC</text>
<rect x="529.3" y="711.10" width="17.5" height="8.6" fill="#984ea3"/>
<rect x="563.5" y="711.10" width="17.2" height="8.6" fill="#984ea3"/>
<polygon points="555.10,722.90 561.80,711.60 548.40,711.60" fill="#fff" stroke="#984ea3" stroke-width="2.6" stroke-linejoin="round"/>
<text x="591.20" y="723.30" font-size="24.0" textLength="30.90" lengthAdjust="spacingAndGlyphs">PC</text>
<rect x="529.3" y="738.90" width="17.5" height="8.6" fill="#e41a1c"/>
<rect x="563.5" y="738.90" width="17.2" height="8.6" fill="#e41a1c"/>
<rect x="550.35" y="738.45" width="9.5" height="9.5" fill="#fff" stroke="#e41a1c" stroke-width="2.6" stroke-linejoin="round"/>
<text x="591.20" y="751.10" font-size="24.0" textLength="48.40" lengthAdjust="spacingAndGlyphs">DME</text>
<rect x="529.3" y="766.50" width="17.5" height="8.6" fill="#3cab6b"/>
<rect x="563.5" y="766.50" width="17.2" height="8.6" fill="#3cab6b"/>
<polygon points="555.10,763.90 561.80,775.20 548.40,775.20" fill="#fff" stroke="#4daf4a" stroke-width="2.6" stroke-linejoin="round"/>
<text x="591.20" y="778.70" font-size="24.0" textLength="79.10" lengthAdjust="spacingAndGlyphs">METMS</text>
<rect x="529.3" y="794.90" width="17.5" height="8.6" fill="#377eb8"/>
<rect x="563.5" y="794.90" width="17.2" height="8.6" fill="#377eb8"/>
<circle cx="555.10" cy="799.20" r="5.4" fill="#fff" stroke="#377eb8" stroke-width="2.6"/>
<text x="592.80" y="807.10" font-size="24.0" textLength="70.00" lengthAdjust="spacingAndGlyphs">TFEMS</text>
<text x="646.70" y="626.20" font-size="24.0" textLength="223.40" lengthAdjust="spacingAndGlyphs">Vehicular dominated</text>
<text x="625.50" y="985.90" font-size="24.0" textLength="230.50" lengthAdjust="spacingAndGlyphs">Structural dominated</text>
<text x="944.00" y="617.50" font-size="24.0" textLength="57.80" lengthAdjust="spacingAndGlyphs">1.0 M</text>
<text x="924.00" y="651.30" font-size="24.0" textLength="55.30" lengthAdjust="spacingAndGlyphs">1.5 M</text>
<text x="862.70" y="730.00" font-size="24.0" textLength="61.60" lengthAdjust="spacingAndGlyphs">2.0 M</text>
<text x="809.00" y="780.00" font-size="24.0" textLength="61.10" lengthAdjust="spacingAndGlyphs">3.0 M</text>
<text x="776.20" y="839.40" font-size="24.0" textLength="60.90" lengthAdjust="spacingAndGlyphs">4.0 M</text>
<line x1="997.3" y1="732.5" x2="920.5" y2="818.5" stroke="#76859c" stroke-width="3.6"/>
<polygon points="913.6,826.2 918.6,808.6 921.6,817.0 930.2,819.6" fill="#76859c"/>
<line x1="901.0" y1="847.5" x2="869.8" y2="940.5" stroke="#76859c" stroke-width="3.6"/>
<polygon points="866.7,950.2 863.4,932.6 870.2,938.4 878.4,937.4" fill="#76859c"/>
<circle cx="906.5" cy="835.5" r="11.8" fill="#dc2222" stroke="#b31f1f" stroke-width="1.6"/>
<text x="931.40" y="843.00" font-size="24.0" font-style="italic" textLength="6.60" lengthAdjust="spacingAndGlyphs">I</text>
<text x="938.00" y="850.40" font-size="15" textLength="8.20" lengthAdjust="spacingAndGlyphs">a</text>
<text x="950.20" y="842.40" font-size="21" textLength="11.10" lengthAdjust="spacingAndGlyphs">=</text>
<text x="966.50" y="843.00" font-size="24.0" textLength="30.30" lengthAdjust="spacingAndGlyphs">1.0</text>
<g transform="translate(900.8 811.3) rotate(-48.2)">
<text x="0.00" y="0.00" font-size="24.0" font-style="italic" textLength="7.80" lengthAdjust="spacingAndGlyphs">t</text>
<text x="8.60" y="5.20" font-size="13" textLength="7.80" lengthAdjust="spacingAndGlyphs">+</text>
<text x="25.00" y="0.00" font-size="24.0" textLength="95.50" lengthAdjust="spacingAndGlyphs">constant</text>
</g>
<g transform="translate(843.2 937.4) rotate(-69.4)">
<text x="0.00" y="0.00" font-size="24.0" font-style="italic" textLength="7.80" lengthAdjust="spacingAndGlyphs">t</text>
<text x="8.60" y="5.20" font-size="13" textLength="7.80" lengthAdjust="spacingAndGlyphs">+</text>
<text x="23.00" y="0.00" font-size="24.0" textLength="88.00" lengthAdjust="spacingAndGlyphs">increase</text>
</g>
<g transform="translate(432.0 809.7) rotate(-90)">
<text x="0.00" y="0.00" font-size="30" class="sf" font-style="italic" textLength="13.40" lengthAdjust="spacingAndGlyphs" stroke="#111" stroke-width="0.7">γ</text>
<text x="12.30" y="9.30" font-size="17" textLength="10.00" lengthAdjust="spacingAndGlyphs">−</text>
</g>
<text x="758.60" y="1078.60" font-size="30" class="sf" font-style="italic" textLength="13.60" lengthAdjust="spacingAndGlyphs" stroke="#111" stroke-width="0.5">γ</text>
<text x="772.00" y="1085.00" font-size="16.5" textLength="9.40" lengthAdjust="spacingAndGlyphs" stroke="#111" stroke-width="0.3">+</text>
</svg>
</body></html>
